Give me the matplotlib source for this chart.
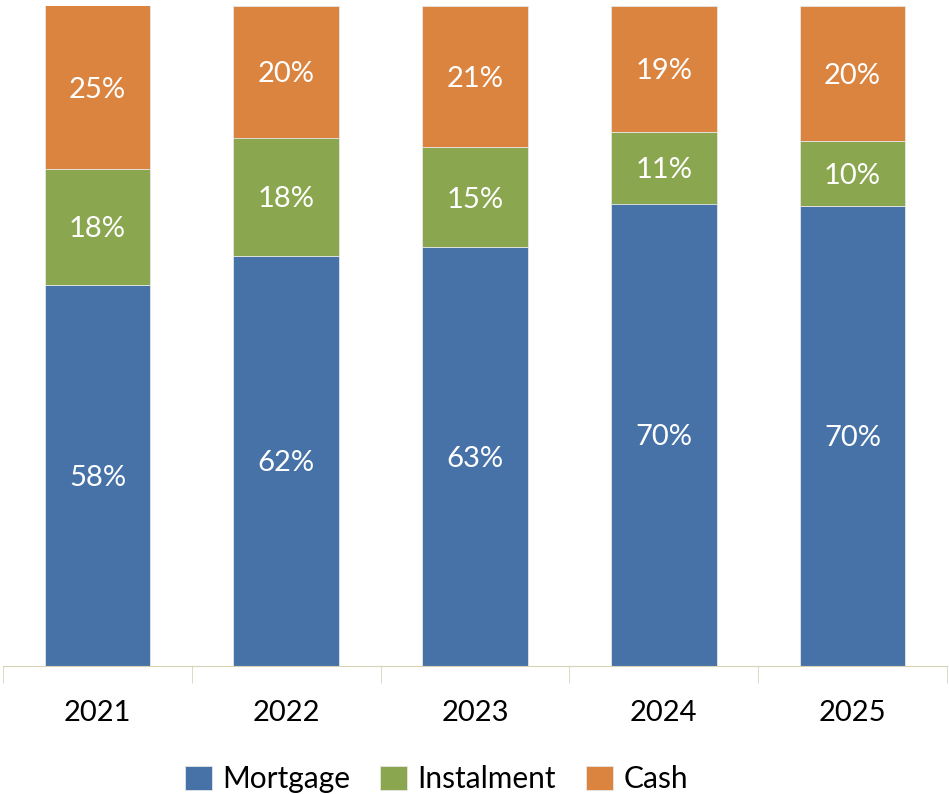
import matplotlib.pyplot as plt
import numpy as np

years = ["2021", "2022", "2023", "2024", "2025"]
mortgage = [57.7, 62.1, 63.4, 70.0, 69.6]
instalment = [17.6, 17.9, 15.1, 10.8, 9.9]
cash = [24.7, 20.0, 21.4, 19.2, 20.4]

series = [
    ("Mortgage", mortgage, "#4672A8"),
    ("Instalment", instalment, "#8AA64E"),
    ("Cash", cash, "#DB843F"),
]


def main():
    plt.rcParams["font.family"] = ["Lato", "DejaVu Sans"]
    fig = plt.figure(figsize=(9.49, 7.94), dpi=100)
    ax = fig.add_axes([3 / 949, 1 - 665.5 / 794, 944 / 949, 660 / 794])

    x = np.arange(len(years))
    bottom = np.zeros(len(years))
    for name, vals, color in series:
        vals = np.array(vals, dtype=float)
        ax.bar(x, vals, 0.56, bottom=bottom, color=color, label=name,
               edgecolor="#E6E6E6", linewidth=0.6)
        for xi, b, v in zip(x, bottom, vals):
            ax.text(xi, b + v / 2, f"{v:.0f}%", ha="center", va="center_baseline",
                    color="white", fontsize=21)
        bottom += vals

    ax.set_ylim(0, 100)
    ax.set_xlim(-0.5, len(years) - 0.5)
    ax.set_yticks([])
    for s in ["top", "left", "right"]:
        ax.spines[s].set_visible(False)
    ax.spines["bottom"].set_color("#D9D3B5")
    ax.set_xticks(x)
    ax.set_xticklabels(years, fontsize=21)
    ax.tick_params(axis="x", which="major", length=0, pad=25)
    ax.set_xticks(np.arange(-0.5, len(years)), minor=True)
    ax.tick_params(axis="x", which="minor", length=12, color="#D9D3B5")

    fig.legend(loc="lower center", bbox_to_anchor=(0.46, -0.033), ncol=3,
               frameon=False, fontsize=21.5, handlelength=0.9, handleheight=0.9,
               handletextpad=0.35, columnspacing=1.0)
    fig.savefig("out.png", dpi=100)


if __name__ == "__main__":
    main()
